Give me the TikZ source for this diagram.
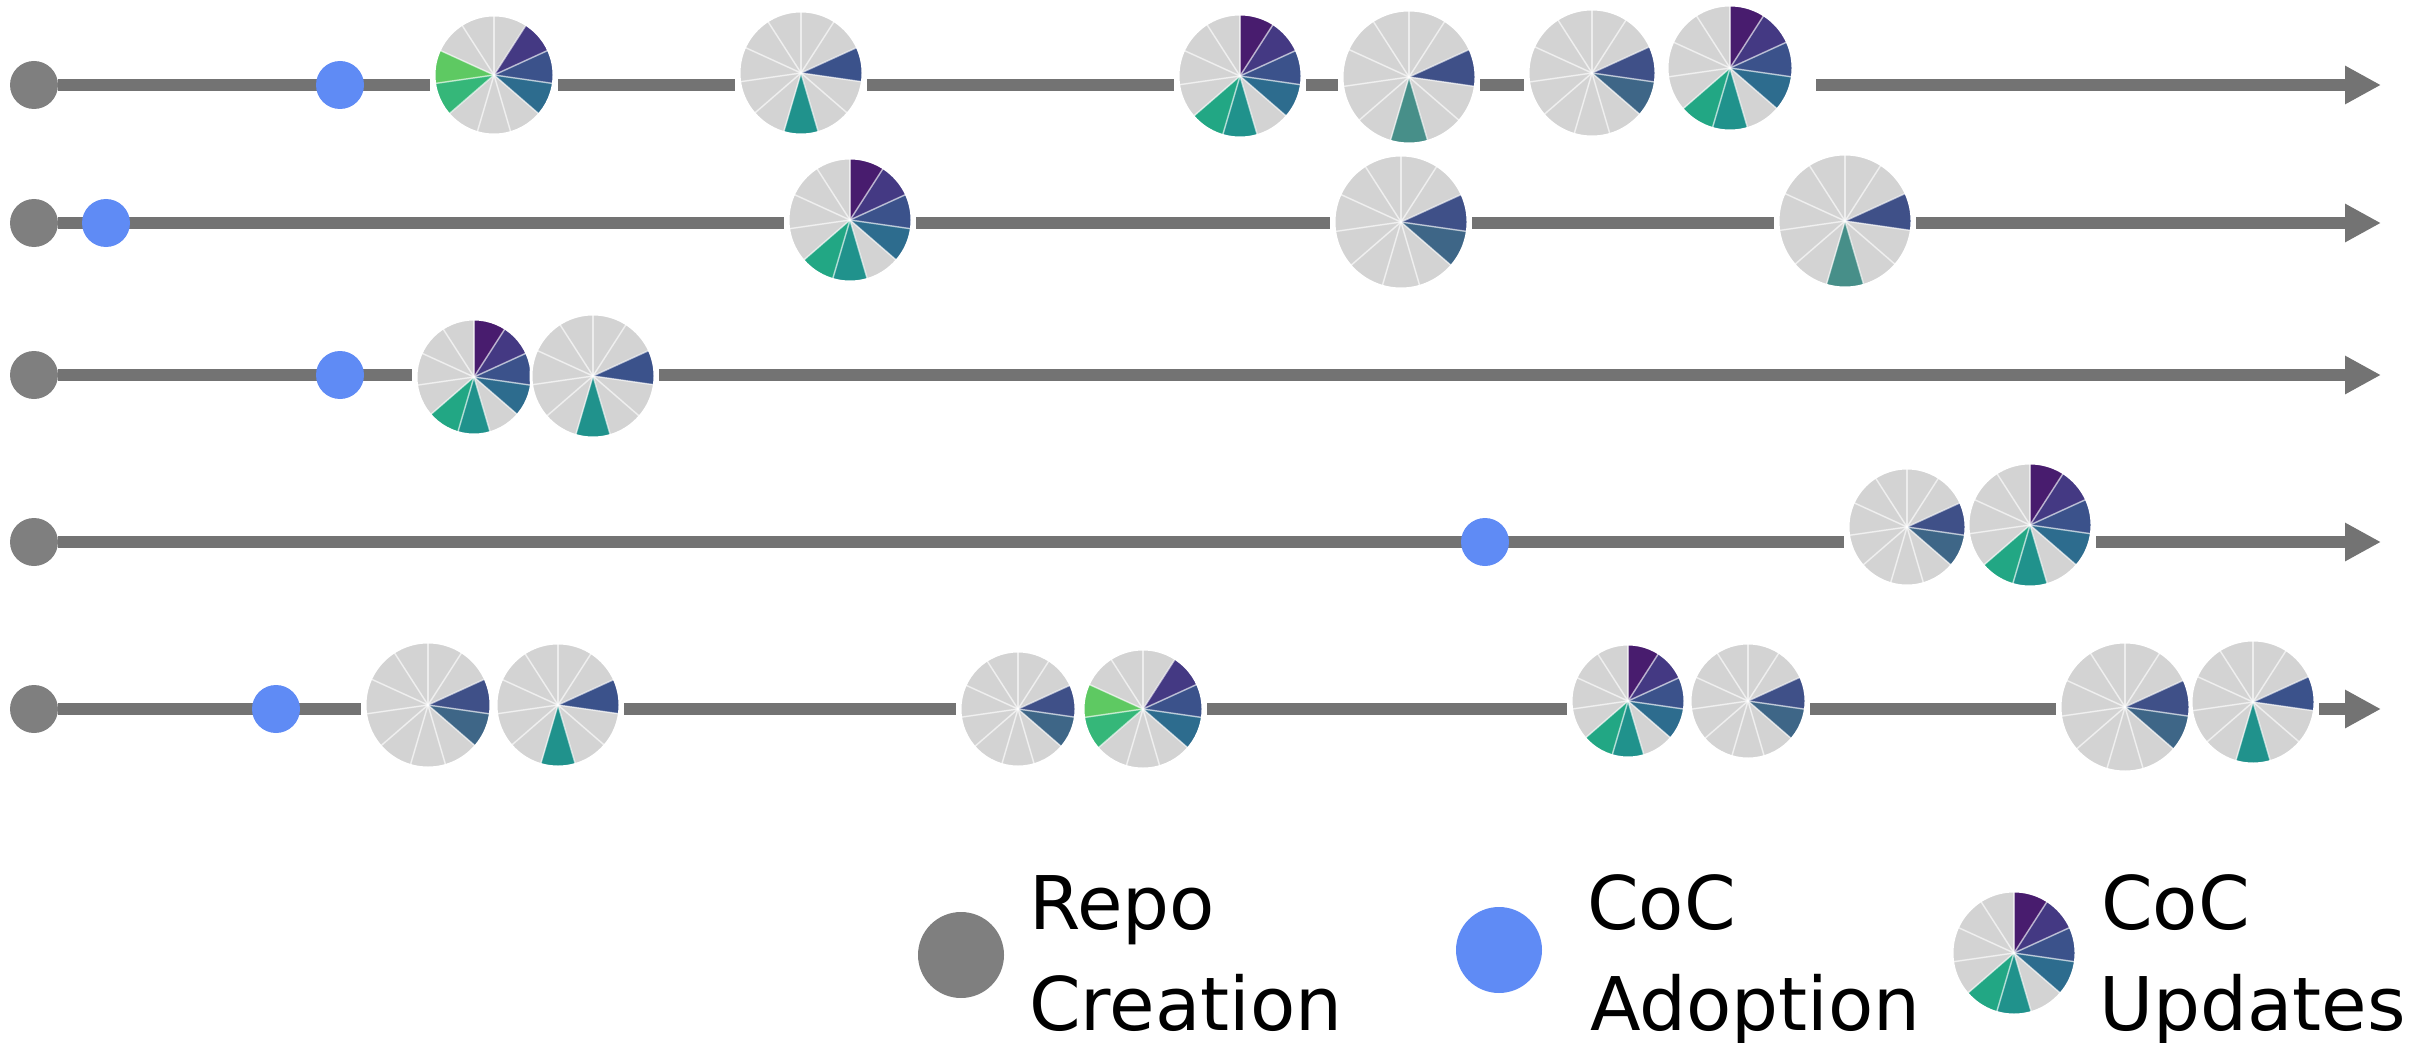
\documentclass[tikz,border=0pt]{standalone}
\usepackage{fontspec}
\setmainfont{DejaVu Sans}
\usetikzlibrary{arrows.meta}
\pgfdeclarelayer{bg}
\pgfsetlayers{bg,main}
\definecolor{tlgrey}{HTML}{737373}
\definecolor{repogrey}{HTML}{7F7F7F}
\definecolor{cocblue}{HTML}{5F8BF5}
\definecolor{pg}{HTML}{D3D3D3}
\definecolor{v0}{HTML}{481C6E}
\definecolor{v1}{HTML}{443983}
\definecolor{v2}{HTML}{3B528B}
\definecolor{v3}{HTML}{2D6C8E}
\definecolor{v5}{HTML}{20928C}
\definecolor{v6}{HTML}{22A784}
\definecolor{v7}{HTML}{35B779}
\definecolor{v8}{HTML}{5EC962}
\definecolor{w2}{HTML}{3F5088}
\definecolor{w3}{HTML}{3E6687}
\definecolor{w5}{HTML}{478F89}
\newcommand\piefull{v0,v1,v2,v3,pg,v5,v6,pg,pg,pg,pg}
\newcommand\piegreen{pg,v1,v2,v3,pg,pg,pg,v7,v8,pg,pg}
\newcommand\pieteal{pg,pg,v2,pg,pg,v5,pg,pg,pg,pg,pg}
\newcommand\piedull{pg,pg,w2,pg,pg,w5,pg,pg,pg,pg,pg}
\newcommand\pieblue{pg,pg,w2,w3,pg,pg,pg,pg,pg,pg,pg}
\newcommand\cocpie[5]{%
  \node[pienode,minimum size={2*#4pt}] (#1) at (#2,-#3) {};
  \foreach \col [count=\i from 0] in #5
    \fill[fill=\col] (#1.center) -- ++({90-\i*360/11}:#4) arc[start angle={90-\i*360/11},delta angle={-360/11},radius=#4] -- cycle;
  \foreach \i in {0,...,10}
    \draw[piesep] (#1.center) -- ++({90-\i*360/11}:#4);
  \draw[pierim] (#1.center) circle[radius=#4];
}
\begin{document}
\begin{tikzpicture}[x=1pt,y=1pt,
  tl/.style={line width=12pt,draw=tlgrey},
  tlend/.style={tl,-{Triangle[length=36pt,width=36pt]}},
  repo/.style={circle,fill=repogrey,inner sep=0,minimum size=48pt},
  adopt/.style={circle,fill=cocblue,inner sep=0,minimum size=48pt},
  pienode/.style={circle,inner sep=0,outer sep=4pt},
  piesep/.style={white,opacity=.6,line width=1.5pt},
  pierim/.style={white,line width=3pt},
  legtext/.style={anchor=base west,inner sep=0,font=\fontsize{74}{101}\selectfont}]
\useasboundingbox (0,0) rectangle (2430,-1043);
\foreach \r/\y in {1/85,2/223,3/375,4/542,5/709} {
  \node[repo] (g\r) at (34,-\y) {};
  \coordinate (e\r) at (2381,-\y);
}
\node[adopt] (b1) at (340,-85) {};
\node[adopt] (b2) at (106,-223) {};
\node[adopt] (b3) at (340,-375) {};
\node[adopt] (b4) at (1485,-542) {};
\node[adopt] (b5) at (276,-709) {};
% row 1
\cocpie{p11}{494}{75}{60}{\piegreen}
\cocpie{p12}{801}{73}{62}{\pieteal}
\cocpie{p13}{1240}{76}{62}{\piefull}
\cocpie{p14}{1409}{77}{67}{\piedull}
\cocpie{p15}{1592}{73}{64}{\pieblue}
\cocpie{p16}{1730}{68}{63}{\piefull}
% row 2
\cocpie{p21}{850}{220}{62}{\piefull}
\cocpie{p22}{1401}{222}{67}{\pieblue}
\cocpie{p23}{1845}{221}{67}{\piedull}
% row 3
\cocpie{p31}{474}{377}{58}{\piefull}
\cocpie{p32}{593}{376}{62}{\pieteal}
% row 4
\cocpie{p41}{1907}{527}{59}{\pieblue}
\cocpie{p42}{2030}{525}{62}{\piefull}
% row 5
\cocpie{p51}{428}{705}{63}{\pieblue}
\cocpie{p52}{558}{705}{62}{\pieteal}
\cocpie{p53}{1018}{709}{58}{\pieblue}
\cocpie{p54}{1143}{709}{60}{\piegreen}
\cocpie{p55}{1628}{701}{57}{\piefull}
\cocpie{p56}{1748}{701}{58}{\pieblue}
\cocpie{p57}{2125}{707}{65}{\pieblue}
\cocpie{p58}{2253}{702}{62}{\pieteal}
\begin{pgfonlayer}{bg}
\draw[tl] (g1) -- (p11.west |- g1) (p11.east |- g1) -- (p12.west |- g1)
  (p12.east |- g1) -- (p13.west |- g1) (p13.east |- g1) -- (p14.west |- g1)
  (p14.east |- g1) -- (p15.west |- g1);
\draw[tlend,shorten <=19pt] (p16.east |- g1) -- (e1);
\draw[tl] (g2) -- (p21.west |- g2) (p21.east |- g2) -- (p22.west |- g2)
  (p22.east |- g2) -- (p23.west |- g2);
\draw[tlend] (p23.east |- g2) -- (e2);
\draw[tl] (g3) -- (p31.west |- g3);
\draw[tlend] (p32.east |- g3) -- (e3);
\draw[tl] (g4) -- (p41.west |- g4);
\draw[tlend] (p42.east |- g4) -- (e4);
\draw[tl] (g5) -- (p51.west |- g5) (p52.east |- g5) -- (p53.west |- g5)
  (p54.east |- g5) -- (p55.west |- g5) (p56.east |- g5) -- (p57.west |- g5);
\draw[tlend] (p58.east |- g5) -- (e5);
\end{pgfonlayer}
% legend
\node[repo,minimum size=86pt] (lrepo) at (961,-955) {};
\node[legtext] (trepo) at (1029,-929) {Repo};
\node[legtext] (trepo2) at (1029,-1030) {Creation};
\node[adopt,minimum size=86pt] (ladopt) at (1499,-950) {};
\node[legtext] (tadopt) at (1587,-929) {CoC};
\node[legtext] (tadopt2) at (1590,-1030) {Adoption};
\cocpie{lpie}{2014}{953}{62}{\piefull}
\node[legtext] (tupd) at (2101,-929) {CoC};
\node[legtext] (tupd2) at (2099,-1030) {Updates};
\end{tikzpicture}
\end{document}
